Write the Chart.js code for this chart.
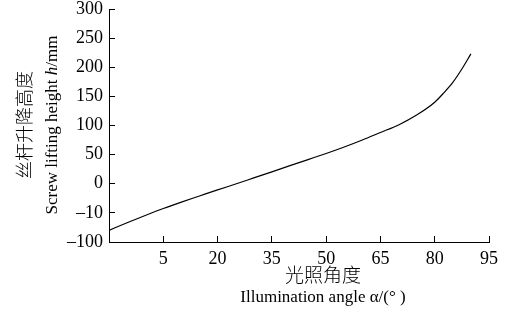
<!DOCTYPE html>
<html>
<head>
<meta charset="utf-8">
<script src="https://cdn.jsdelivr.net/npm/chart.js@4/dist/chart.umd.min.js"></script>
<style>
html,body{margin:0;padding:0;background:#fff;}
#wrap{width:506px;height:314px;position:relative;}
</style>
</head>
<body>
<div id="wrap"><canvas id="c" width="506" height="314"></canvas></div>
<script>
// Data
const angles  = [-10, -5, 0, 5, 10, 15, 20, 25, 30, 35, 40, 45, 50, 55, 60, 65, 70, 75, 80, 82.5, 85, 87.5, 90];
const heights = [-80, -67, -54.5, -42.5, -31.5, -21, -10.5, -0.5, 10, 20.5, 31, 41.5, 52, 63, 75, 88, 101, 118, 140, 156, 174, 197, 223];
const xTickValues = [5, 20, 35, 50, 65, 80, 95];
const yTickValues = [-100, -50, 0, 50, 100, 150, 200, 250, 300];
const yTickLabels = ['\u2013100', '\u201310', '0', '50', '100', '150', '200', '250', '300'];
const yTitleCN = '丝杆升降高度';
const yTitleEN = ['Screw lifting height ', 'h', '/mm'];
const xTitleCN = '光照角度';
const xTitleEN = 'Illumination angle \u03b1/(\u00b0 )';

const serif = '"Liberation Serif", "DejaVu Serif", serif';
const cjk = '"Noto Sans CJK SC", sans-serif';

const titlePlugin = {
  id: 'titles',
  afterDraw(chart) {
    const ctx = chart.ctx;
    ctx.save();
    ctx.fillStyle = '#000';
    ctx.textBaseline = 'middle';
    const cy = 125;
    ctx.save();
    ctx.translate(24, cy);
    ctx.rotate(-Math.PI / 2);
    ctx.font = '300 18px ' + cjk;
    ctx.textAlign = 'center';
    ctx.fillText(yTitleCN, 0, 0);
    ctx.restore();

    ctx.save();
    ctx.translate(53, cy);
    ctx.rotate(-Math.PI / 2);
    const fonts = ['17px ' + serif, 'italic 17px ' + serif, '17px ' + serif];
    let widths = yTitleEN.map((t, i) => { ctx.font = fonts[i]; return ctx.measureText(t).width; });
    let total = widths.reduce((a, b) => a + b, 0);
    let x = -total / 2;
    ctx.textAlign = 'left';
    yTitleEN.forEach((t, i) => { ctx.font = fonts[i]; ctx.fillText(t, x, 0); x += widths[i]; });
    ctx.restore();

    ctx.textAlign = 'center';
    ctx.font = '300 19px ' + cjk;
    ctx.fillText(xTitleCN, 323, 275);
    ctx.font = '17px ' + serif;
    ctx.fillText(xTitleEN, 323, 298);
    ctx.restore();
  }
};

new Chart(document.getElementById('c'), {
  type: 'line',
  data: {
    datasets: [{
      data: angles.map((a, i) => ({ x: a, y: heights[i] })),
      borderColor: '#000',
      borderWidth: 1.2,
      pointRadius: 0,
      cubicInterpolationMode: 'monotone',
      fill: false
    }]
  },
  options: {
    responsive: false,
    animation: false,
    devicePixelRatio: 1,
    layout: { padding: { top: 9, right: 17, left: 0, bottom: 0 } },
    plugins: { legend: { display: false }, tooltip: { enabled: false }, title: { display: false } },
    scales: {
      x: {
        type: 'linear',
        min: -10, max: 95,
        afterBuildTicks: (s) => { s.ticks = xTickValues.map(v => ({ value: v })); },
        afterFit: (s) => { s.height = 72; s.paddingLeft = 0; s.paddingRight = 0; },
        border: { display: true, color: '#000', width: 1 },
        grid: { drawOnChartArea: false, drawTicks: true, tickLength: -6, color: '#000', lineWidth: 1 },
        ticks: { color: '#000', font: { family: serif, size: 18 }, padding: 12, maxRotation: 0, autoSkip: false }
      },
      y: {
        type: 'linear',
        min: -100, max: 300,
        afterBuildTicks: (s) => { s.ticks = yTickValues.map(v => ({ value: v })); },
        afterFit: (s) => { s.width = 109; s.paddingTop = 0; s.paddingBottom = 0; },
        border: { display: true, color: '#000', width: 1 },
        grid: { drawOnChartArea: false, drawTicks: true, tickLength: -6, color: '#000', lineWidth: 1 },
        ticks: {
          color: '#000', font: { family: serif, size: 18 }, padding: 12, autoSkip: false,
          callback: (v) => { const i = yTickValues.indexOf(v); return i >= 0 ? yTickLabels[i] : ''; }
        }
      }
    }
  },
  plugins: [titlePlugin]
});
</script>
</body>
</html>
